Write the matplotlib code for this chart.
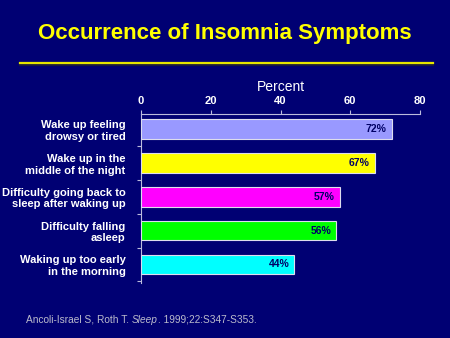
import matplotlib
matplotlib.use("Agg")
import matplotlib.pyplot as plt
from matplotlib.lines import Line2D

categories = ["Wake up feeling\ndrowsy or tired", "Wake up in the\nmiddle of the night",
              "Difficulty going back to\nsleep after waking up", "Difficulty falling\nasleep",
              "Waking up too early\nin the morning"]
values = [72, 67, 57, 56, 44]
value_labels = ["72%", "67%", "57%", "56%", "44%"]
colors = ["#9999FF", "#FFFF00", "#FF00FF", "#00FF00", "#00FFFF"]
xticks = [0, 20, 40, 60, 80]

BG = "#000073"
plt.rcParams['font.family'] = ['Liberation Sans', 'DejaVu Sans']

fig = plt.figure(figsize=(4.5, 3.38), dpi=100, facecolor=BG)
ax = fig.add_axes([141/450, 1-283/338, 279/450, 169/338])
ax.set_facecolor(BG)

ypos = list(range(len(values)))
ax.barh(ypos, values, height=0.58, color=colors, edgecolor="#DDDDEE", linewidth=0.8, zorder=3)
for y, v, lab in zip(ypos, values, value_labels):
    ax.text(v - 1.5, y, lab, ha="right", va="center", color="#000066",
            fontsize=7.5, fontweight="bold", zorder=4)

ax.set_xlim(0, 80)
ax.set_ylim(4.55, -0.45)
ax.xaxis.tick_top()
ax.set_xticks(xticks)
ax.set_xticklabels([str(t) for t in xticks], color="white", fontsize=8, fontweight="bold")
ax.tick_params(axis="x", colors="#BBBBDD", labelcolor="white", length=3, width=0.8, pad=3)
ax.set_yticks(ypos)
ax.set_yticklabels(categories, color="white", fontsize=8, fontweight="bold", linespacing=1.2)
ax.tick_params(axis="y", length=0, pad=11)
ax.set_yticks([i + 0.5 for i in range(len(values))], minor=True)
ax.tick_params(axis="y", which="minor", length=3, width=0.8, colors="#BBBBDD")
for s in ["right", "bottom"]:
    ax.spines[s].set_visible(False)
for s in ["top", "left"]:
    ax.spines[s].set_color("#BBBBDD")
    ax.spines[s].set_linewidth(0.8)
ax.set_xlabel("Percent", color="white", fontsize=10, labelpad=3)
ax.xaxis.set_label_position("top")

fig.text(0.5, 1-33/338, "Occurrence of Insomnia Symptoms", ha="center", va="center",
         color="#FFFF00", fontsize=16, fontweight="bold")
fig.add_artist(Line2D([20/450, 433/450], [1-64.5/338, 1-64.5/338], color="#1a1a40", linewidth=1.6))
fig.add_artist(Line2D([20/450, 433/450], [1-63/338, 1-63/338], color="#E6E600", linewidth=1.6))

# footnote with italic part
renderer = fig.canvas.get_renderer()
parts = [("Ancoli-Israel S, Roth T. ", "normal"), ("Sleep", "italic"), (". 1999;22:S347-S353.", "normal")]
x = 26/450
yf = 1-320/338
for txt, style in parts:
    t = fig.text(x, yf, txt, ha="left", va="center", color="#BBBBCC", fontsize=7.3, fontstyle=style)
    bb = t.get_window_extent(renderer)
    x += bb.width / fig.bbox.width

fig.savefig("out.png", dpi=100, facecolor=BG)
